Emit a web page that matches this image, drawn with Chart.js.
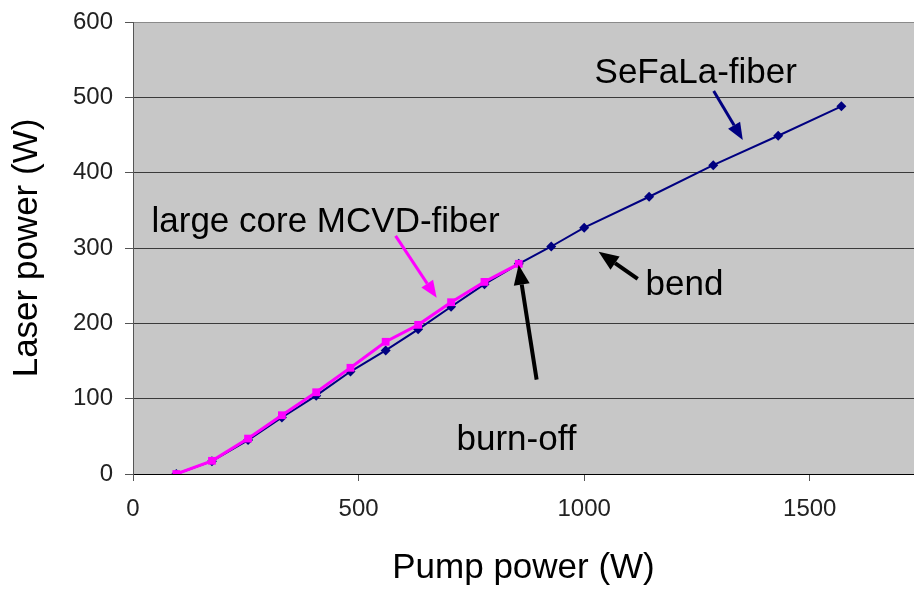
<!DOCTYPE html>
<html>
<head>
<meta charset="utf-8">
<style>
  html, body { margin: 0; padding: 0; background: #ffffff; }
  #wrap { width: 914px; height: 589px; position: relative; }
</style>
<script src="https://cdn.jsdelivr.net/npm/chart.js@4/dist/chart.umd.min.js"></script>
</head>
<body>
<div id="wrap"><canvas id="c" width="914" height="589"></canvas></div>
<script>
// ---- Data ----
const sefalaPump  = [96, 175, 255, 330, 406, 482, 560, 632, 705, 779, 855, 927, 1000, 1144, 1286, 1430, 1570];
const sefalaLaser = [0, 17, 45, 75, 104, 136, 164, 192, 222, 252, 279, 302, 327, 368, 410, 449, 488];
const mcvdPump    = [96, 175, 255, 330, 406, 482, 560, 632, 705, 779, 855];
const mcvdLaser   = [0, 17.5, 47, 78, 108.5, 141, 175.5, 198, 228, 255, 279];
const xTickValues = [0, 500, 1000, 1500];
const yTickValues = [0, 100, 200, 300, 400, 500, 600];
const xTitle = 'Pump power (W)';
const yTitle = 'Laser power (W)';

// ---- Annotations (data coordinates) ----
const noteTexts  = ['large core MCVD-fiber', 'SeFaLa-fiber', 'bend', 'burn-off'];
const noteX      = [41, 1023, 1136, 717];
const noteY      = [320.6, 519, 238, 32.5];
const arrowFromX = [582, 1287, 1118.6, 894.6];
const arrowFromY = [316, 508.5, 259, 125.3];
const arrowToX   = [673, 1351.5, 1032, 854.7];
const arrowToY   = [234, 443.5, 295, 277.8];
const arrowColor = ['#ff00ff', '#000080', '#000000', '#000000'];

const FONT = "'Liberation Sans', Arial, Helvetica, sans-serif";

function pts(xs, ys) { return xs.map((x, i) => ({ x: x, y: ys[i] })); }
function noPad(s) { s.paddingTop = 0; s.paddingBottom = 0; s.paddingLeft = 0; s.paddingRight = 0; }

const plotBg = {
  id: 'plotBg',
  beforeDraw(chart) {
    const a = chart.chartArea, ctx = chart.ctx;
    ctx.save();
    ctx.fillStyle = '#c7c7c7';
    ctx.fillRect(a.left, a.top, a.right - a.left, a.bottom - a.top);
    ctx.restore();
  }
};

function drawArrow(ctx, x1, y1, x2, y2, color, lw, hl, hw) {
  const ang = Math.atan2(y2 - y1, x2 - x1);
  const bx = x2 - hl * Math.cos(ang), by = y2 - hl * Math.sin(ang);
  ctx.save();
  ctx.strokeStyle = color; ctx.fillStyle = color; ctx.lineWidth = lw;
  ctx.beginPath(); ctx.moveTo(x1, y1); ctx.lineTo(bx, by); ctx.stroke();
  ctx.beginPath();
  ctx.moveTo(x2, y2);
  ctx.lineTo(bx + hw / 2 * Math.sin(ang), by - hw / 2 * Math.cos(ang));
  ctx.lineTo(bx - hw / 2 * Math.sin(ang), by + hw / 2 * Math.cos(ang));
  ctx.closePath(); ctx.fill();
  ctx.restore();
}

const notes = {
  id: 'notes',
  afterDatasetsDraw(chart) {
    const ctx = chart.ctx, xs = chart.scales.x, ys = chart.scales.y;
    ctx.save();
    ctx.fillStyle = '#000';
    ctx.font = '35px ' + FONT;
    ctx.textAlign = 'left';
    ctx.textBaseline = 'alphabetic';
    noteTexts.forEach((t, i) => {
      ctx.fillText(t, xs.getPixelForValue(noteX[i]), ys.getPixelForValue(noteY[i]));
    });
    ctx.restore();
    arrowColor.forEach((col, i) => {
      const black = col === '#000000';
      drawArrow(ctx,
        xs.getPixelForValue(arrowFromX[i]), ys.getPixelForValue(arrowFromY[i]),
        xs.getPixelForValue(arrowToX[i]), ys.getPixelForValue(arrowToY[i]),
        col, black ? 4 : 3, black ? 20 : 17, black ? 16 : 14);
    });
  }
};

new Chart(document.getElementById('c'), {
  type: 'line',
  data: {
    datasets: [
      {
        label: 'large core MCVD-fiber',
        data: pts(mcvdPump, mcvdLaser),
        borderColor: '#ff00ff',
        backgroundColor: '#ff00ff',
        borderWidth: 3,
        pointStyle: 'rect',
        pointRadius: 5.5,
        pointBorderWidth: 0,
        tension: 0,
        order: 0
      },
      {
        label: 'SeFaLa-fiber',
        data: pts(sefalaPump, sefalaLaser),
        borderColor: '#000080',
        backgroundColor: '#000080',
        borderWidth: 2,
        pointStyle: 'rectRot',
        pointRadius: 5,
        pointBorderWidth: 0,
        tension: 0,
        order: 1
      }
    ]
  },
  options: {
    responsive: false,
    animation: false,
    events: [],
    layout: { autoPadding: false, padding: { top: 22, right: 0, bottom: 0, left: 0 } },
    plugins: { legend: { display: false }, tooltip: { enabled: false } },
    scales: {
      x: {
        type: 'linear',
        min: 0,
        max: 1731,
        afterBuildTicks(s) { s.ticks = xTickValues.map(v => ({ value: v })); },
        afterFit(s) { s.height = 115; noPad(s); },
        ticks: { color: '#222', font: { family: FONT, size: 24 }, padding: 14, maxRotation: 0, callback: (v) => String(v) },
        grid: { drawOnChartArea: false, drawTicks: true, tickLength: 7, tickColor: '#555', lineWidth: 1 },
        border: { display: true, color: '#000', width: 1 },
        title: { display: true, text: xTitle, color: '#000', font: { family: FONT, size: 35, lineHeight: 1.2 }, padding: { top: 0, bottom: 0 } }
      },
      y: {
        type: 'linear',
        min: 0,
        max: 600,
        afterBuildTicks(s) { s.ticks = yTickValues.map(v => ({ value: v })); },
        afterFit(s) { s.width = 133; noPad(s); },
        ticks: { color: '#222', font: { family: FONT, size: 24 }, padding: 12, callback: (v) => String(v) },
        grid: {
          color: (c) => (c.tick && c.tick.value === 600 ? '#8a8a8a' : '#3a3a3a'),
          lineWidth: 1,
          drawTicks: true,
          tickLength: 8,
          tickColor: '#555'
        },
        border: { display: true, color: '#555', width: 1 },
        title: { display: true, text: yTitle, color: '#000', font: { family: FONT, size: 35, lineHeight: 1.2 }, padding: { top: 6, bottom: 0 } }
      }
    }
  },
  plugins: [plotBg, notes]
});
</script>
</body>
</html>
